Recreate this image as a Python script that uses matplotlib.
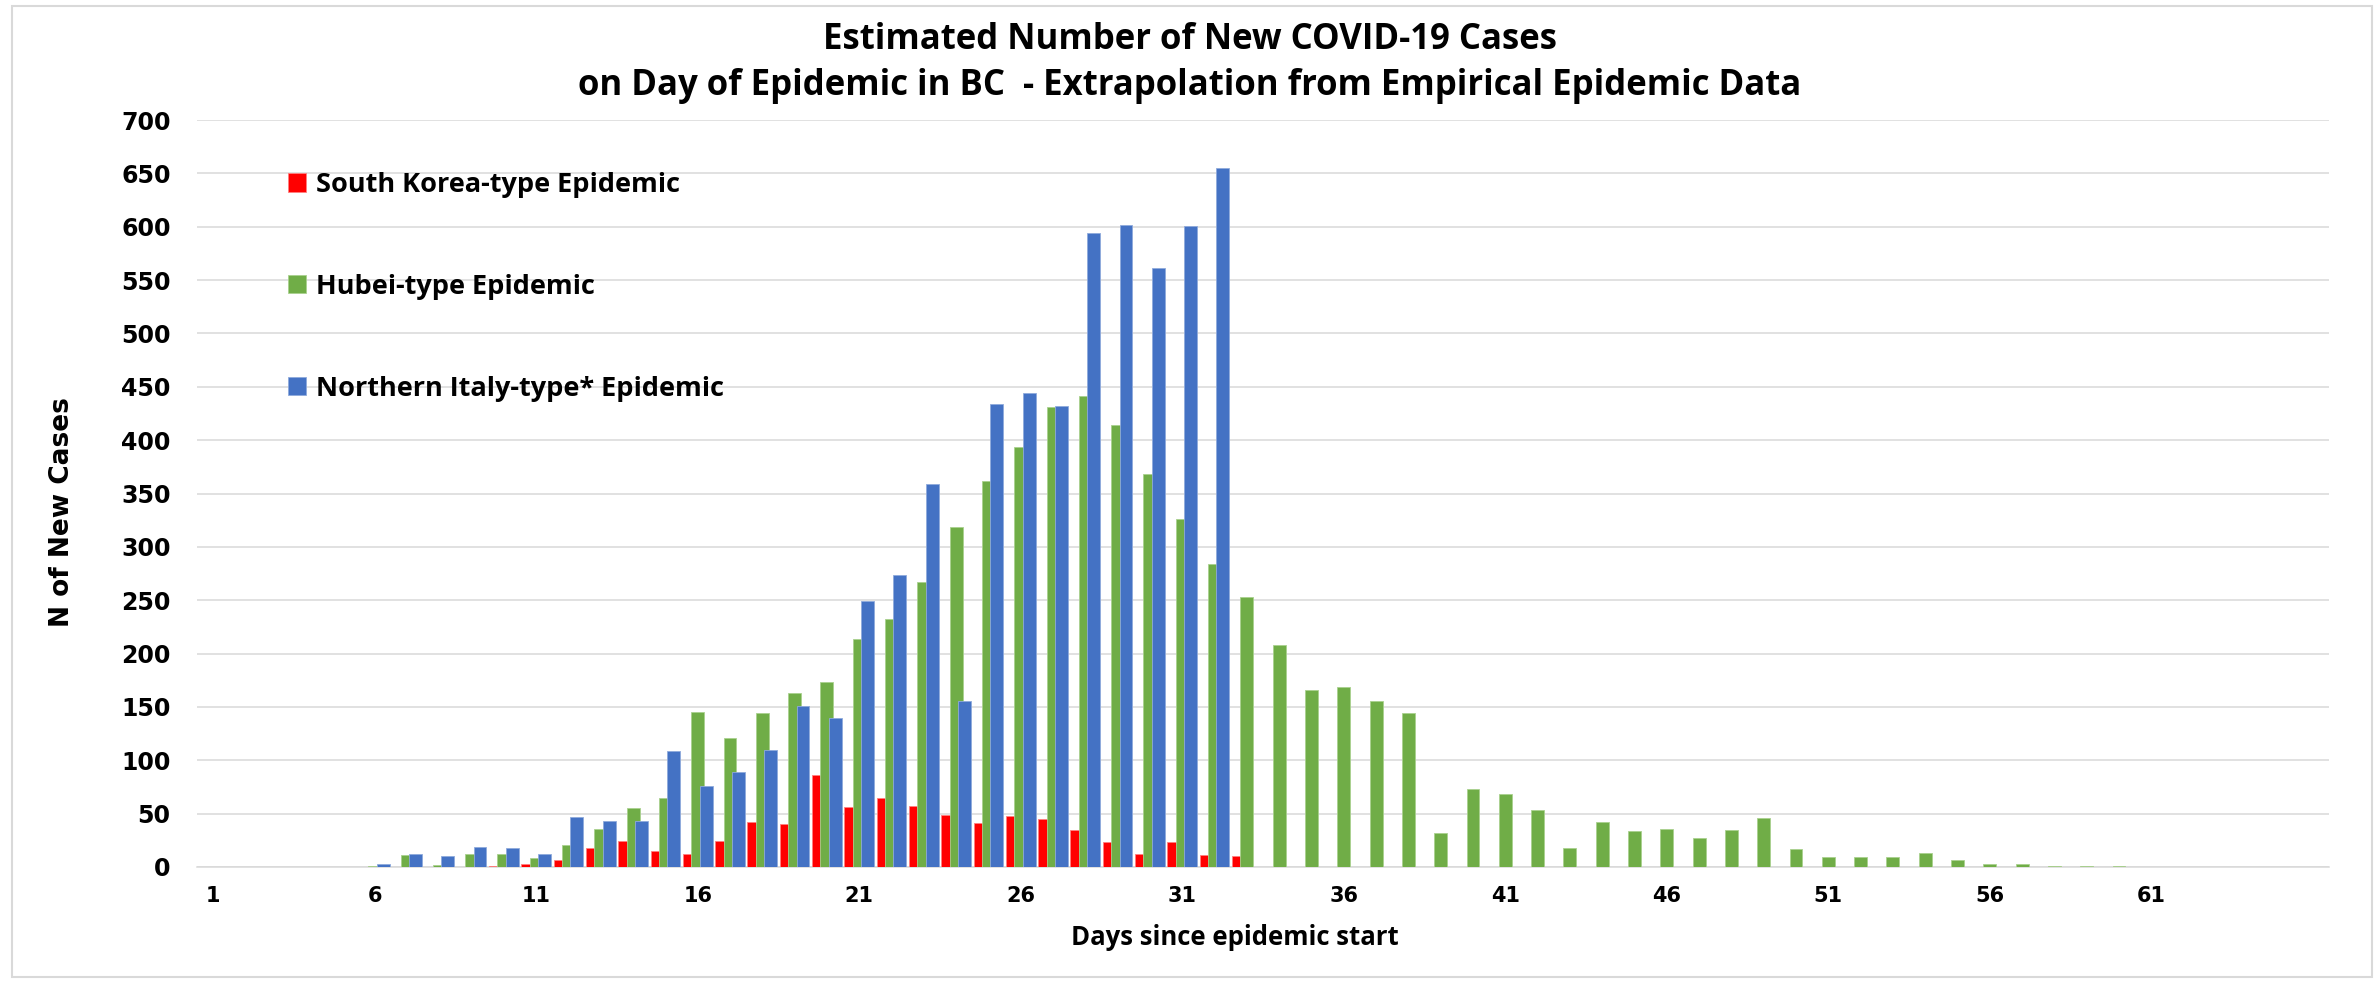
import numpy as np
import matplotlib
matplotlib.use('Agg')
import matplotlib.pyplot as plt
from matplotlib.patches import Rectangle

# Days since epidemic start (categories)
days = list(range(1, 67))

# Estimated new cases per day
south_korea = [0, 0, 0, 0, 0, 0, 0, 0, 0, 1,
               3, 7, 18, 24, 15, 12, 24, 42, 40, 86,
               56, 65, 57, 49, 41, 48, 45, 35, 23, 12,
               23, 11, 10] + [0] * 33
hubei = [0, 0, 0, 0, 0, 1, 11, 2, 12, 12,
         8, 21, 36, 55, 65, 145, 121, 144, 163, 173,
         214, 232, 267, 319, 362, 394, 431, 441, 414, 368,
         326, 284, 253, 208, 166, 169, 156, 144, 32, 73,
         68, 53, 18, 42, 34, 36, 27, 35, 46, 17,
         9, 9, 9, 13, 7, 3, 3, 1, 1, 1] + [0] * 6
north_italy = [0, 0, 0, 0, 0, 3, 12, 10, 19, 18,
               12, 47, 43, 43, 109, 76, 89, 110, 151, 140,
               249, 274, 359, 156, 434, 444, 432, 594, 602, 561,
               601, 655] + [0] * 34

series_names = ['South Korea-type Epidemic', 'Hubei-type Epidemic',
                'Northern Italy-type* Epidemic']
colors = ['#ff0000', '#70ad47', '#4472c4']
edges = ['#ff8080', '#a9d18e', '#8faadc']

x_ticks = list(range(1, 62, 5))
y_ticks = list(range(0, 701, 50))

title_1 = 'Estimated Number of New COVID-19 Cases'
title_2 = 'on Day of Epidemic in BC  - Extrapolation from Empirical Epidemic Data'

W, H = 2380, 981
fig = plt.figure(figsize=(W / 100, H / 100), dpi=100)
ax = fig.add_axes([197 / W, 1 - 867 / H, (2329 - 197) / W, (867 - 120) / H])

x = np.array(days)
width = 0.40
offsets = [-0.26, 0.0, 0.26]
bars = []
for vals, off, c, e, name in zip([south_korea, hubei, north_italy], offsets,
                                 colors, edges, series_names):
    b = ax.bar(x + off, vals, width=width, color=c, edgecolor=e,
               linewidth=0.6, label=name, zorder=3)
    bars.append(b)

ax.set_xlim(0.5, 66.5)
ax.set_ylim(0, 700)
ax.set_yticks(y_ticks)
ax.set_xticks(x_ticks)
ax.set_xticklabels([str(t) for t in x_ticks], fontsize=15,
                   fontweight='bold', family='DejaVu Sans')
ax.set_yticklabels([str(t) for t in y_ticks], fontsize=17,
                   fontweight='bold', family='DejaVu Sans')
ax.tick_params(axis='x', length=0, pad=14)
ax.tick_params(axis='y', length=0, pad=19)

ax.grid(axis='y', color='#d9d9d9', linewidth=1.1, zorder=0)
ax.set_axisbelow(True)
for s in ['top', 'right', 'left']:
    ax.spines[s].set_visible(False)
ax.spines['bottom'].set_color('#d9d9d9')
ax.spines['bottom'].set_linewidth(1.1)

ax.set_ylabel('N of New Cases', fontsize=19, fontweight='bold',
              family=['Liberation Sans Narrow', 'DejaVu Sans'])
ax.yaxis.set_label_coords(-0.057, 0.475)
ax.set_xlabel('Days since epidemic start', fontsize=18.5, fontweight='bold',
              family='Open Sans')
ax.xaxis.set_label_coords(0.487, -0.076)

fig.text(0.5, 1 - 40 / H, title_1, ha='center', va='center',
         fontsize=25, fontweight='bold', family='Open Sans')
fig.text(0.5, 1 - 86 / H, title_2, ha='center', va='center',
         fontsize=25, fontweight='bold', family='Open Sans')

ax.legend(handles=bars, loc='upper left',
          bbox_to_anchor=(288 / W, 1 - 172 / H), bbox_transform=fig.transFigure,
          frameon=False, prop={'family': 'Open Sans', 'weight': 'bold', 'size': 19.5},
          handlelength=0.65, handleheight=0.65, handletextpad=0.4,
          labelspacing=2.8, borderpad=0, borderaxespad=0)

fig.add_artist(Rectangle((12 / W, 4 / H), 2360 / W, 971 / H,
                         transform=fig.transFigure, fill=False,
                         edgecolor='#d9d9d9', linewidth=1.5))

plt.savefig('out.png', dpi=100)
